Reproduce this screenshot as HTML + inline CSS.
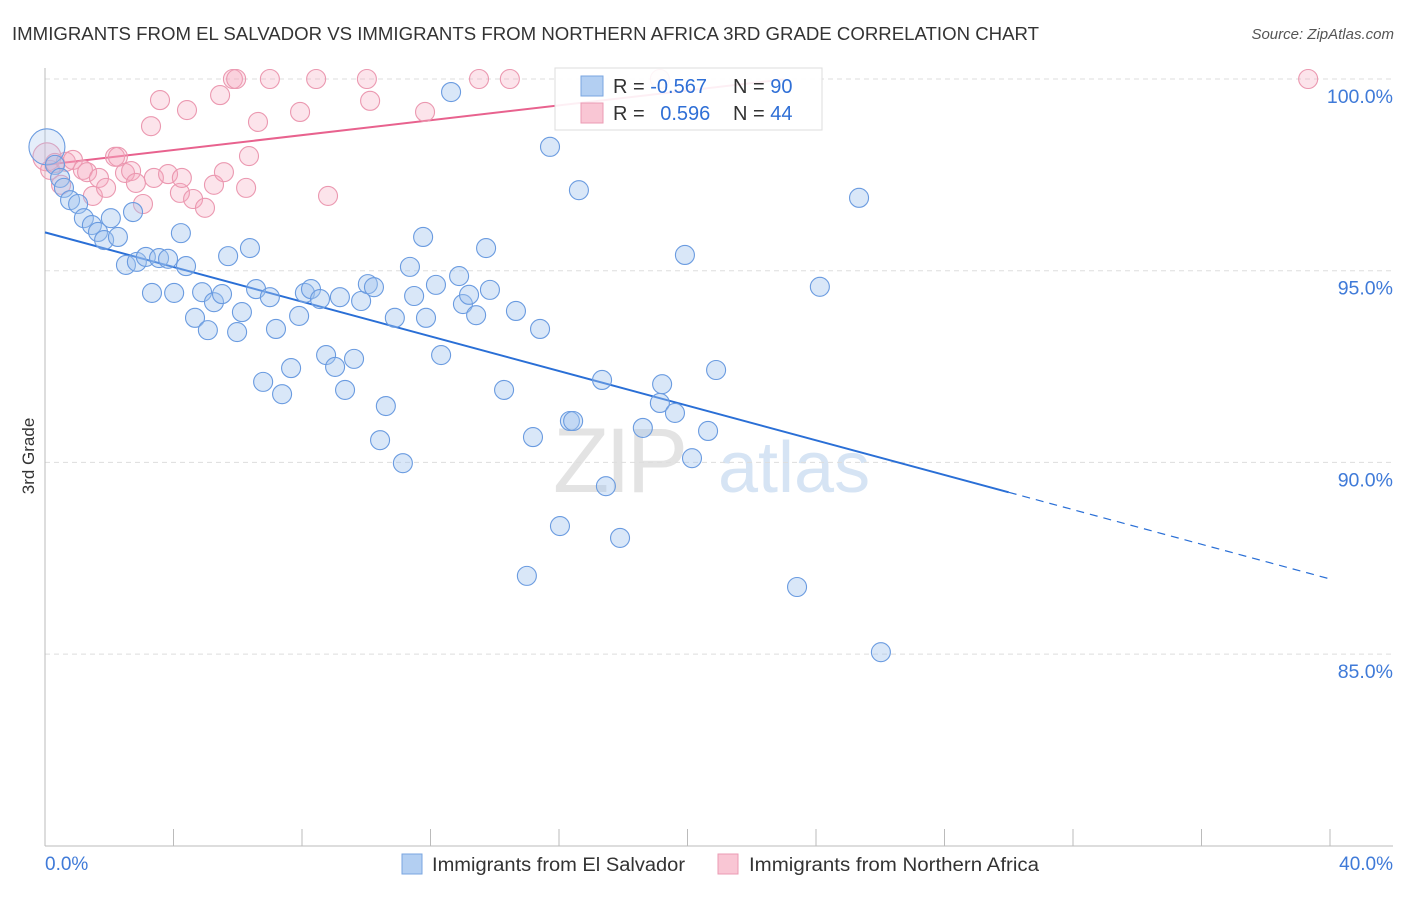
<!DOCTYPE html>
<html><head><meta charset="utf-8"><style>
body{margin:0;background:#fff;font-family:"Liberation Sans",sans-serif;}
svg text{font-family:"Liberation Sans",sans-serif;}
</style></head><body>
<svg id="chart" width="1406" height="892" viewBox="0 0 1406 892">
<text x="12" y="40" font-size="18" fill="#333" textLength="1027" lengthAdjust="spacingAndGlyphs">IMMIGRANTS FROM EL SALVADOR VS IMMIGRANTS FROM NORTHERN AFRICA 3RD GRADE CORRELATION CHART</text>
<text x="1394" y="39" font-size="15" fill="#555" font-style="italic" text-anchor="end">Source: ZipAtlas.com</text>
<text transform="translate(34,456) rotate(-90)" font-size="17" fill="#333" text-anchor="middle">3rd Grade</text>
<g><text x="553" y="492" font-size="92" fill="#e3e3e3" font-family="Liberation Serif,serif" letter-spacing="-4">ZIP</text><text x="718" y="492" font-size="72" fill="#d6e4f4">atlas</text></g>
<g id="grid"></g><g id="axes"></g><g id="trend"></g><g id="points"></g>
<g>
<rect x="555" y="68" width="267" height="62" fill="#fff" fill-opacity="0.9" stroke="#ddd"/>
<rect x="581" y="76" width="22" height="20" fill="#b3cff2" stroke="#7aa6e0"/>
<rect x="581" y="103" width="22" height="20" fill="#f9c6d4" stroke="#eb9bb3"/>
<text x="613" y="93" font-size="20" fill="#333">R = <tspan fill="#2f6fd6">-0.567</tspan></text>
<text x="733" y="93" font-size="20" fill="#333">N = <tspan fill="#2f6fd6">90</tspan></text>
<text x="613" y="120" font-size="20" fill="#333">R = <tspan fill="#2f6fd6" dx="10">0.596</tspan></text>
<text x="733" y="120" font-size="20" fill="#333">N = <tspan fill="#2f6fd6">44</tspan></text>
</g>
<g>
<rect x="402" y="854" width="20" height="20" fill="#b3cff2" stroke="#7aa6e0"/>
<text x="432" y="871" font-size="19" fill="#333" textLength="253" lengthAdjust="spacingAndGlyphs">Immigrants from El Salvador</text>
<rect x="718" y="854" width="20" height="20" fill="#f9c6d4" stroke="#eb9bb3"/>
<text x="749" y="871" font-size="19" fill="#333" textLength="290" lengthAdjust="spacingAndGlyphs">Immigrants from Northern Africa</text>
</g>
</svg>
<script>
const yTicks=[100,95,90,85];
const yTickLabels=["100.0%","95.0%","90.0%","85.0%"];
const xTicks=[0,4,8,12,16,20,24,28,32,36,40];
const xEndLabels=["0.0%","40.0%"];
const blueX=[0.06,0.31,0.47,0.59,0.78,1.03,1.21,1.46,1.65,1.84,2.05,2.27,2.52,2.74,2.86,3.14,3.33,3.55,3.83,4.02,4.23,4.39,4.67,4.89,5.07,5.26,5.51,5.70,5.98,6.13,6.38,6.57,6.79,7.00,7.19,7.38,7.66,7.91,8.09,8.28,8.56,8.75,9.03,9.18,9.34,9.62,9.84,10.05,10.24,10.43,10.61,10.89,11.14,11.36,11.49,11.77,11.86,12.17,12.33,12.64,12.89,13.01,13.20,13.42,13.73,13.85,14.29,14.66,15.00,15.19,15.41,15.72,16.03,16.34,16.44,16.62,17.34,17.46,17.90,18.61,19.14,19.21,19.61,19.92,20.14,20.64,20.89,23.41,24.12,25.34,26.02];
const blueY=[98.23,97.76,97.42,97.16,96.84,96.74,96.37,96.19,96.01,95.80,96.37,95.88,95.15,96.53,95.23,95.36,94.42,95.33,95.31,94.42,95.98,95.12,93.77,94.44,93.45,94.18,94.39,95.38,93.40,93.92,95.59,94.52,92.10,94.31,93.48,91.78,92.46,93.82,94.42,94.52,94.26,92.80,92.49,94.31,91.89,92.70,94.21,94.65,94.57,90.58,91.47,93.77,89.98,95.10,94.34,95.88,93.77,94.63,92.80,99.66,94.86,94.13,94.37,93.84,95.59,94.50,91.89,93.95,87.04,90.66,93.48,98.23,88.34,91.08,91.08,97.10,92.15,89.38,88.03,90.90,91.55,92.04,91.29,95.41,90.11,90.82,92.41,86.75,94.58,96.90,85.05];
const pinkX=[0.06,0.16,0.31,0.50,0.65,0.87,1.18,1.31,1.49,1.68,1.90,2.18,2.27,2.49,2.68,2.83,3.05,3.30,3.39,3.58,3.83,4.20,4.26,4.42,4.61,4.98,5.26,5.45,5.57,5.85,5.95,6.26,6.35,6.63,7.00,7.94,8.44,8.81,10.02,10.12,11.83,13.51,14.47,19.14,39.32];
const pinkY=[97.97,97.63,97.81,97.24,97.84,97.89,97.63,97.57,96.95,97.42,97.16,97.97,97.97,97.55,97.60,97.29,96.74,98.77,97.42,99.45,97.52,97.03,97.42,99.19,96.87,96.64,97.24,99.58,97.57,100,100,97.16,97.99,98.88,100,99.14,100,96.95,100,99.43,99.14,100,100,100,100];
const blueTrend=[96.0,-0.226];
const pinkTrend=[97.76,0.097];
const NS="http://www.w3.org/2000/svg";
const X=v=>45+v/40*1285;
const Y=v=>79+(100-v)/5*191.7;
function mk(tag,attrs,parent){const e=document.createElementNS(NS,tag);for(const k in attrs)e.setAttribute(k,attrs[k]);document.getElementById(parent).appendChild(e);return e;}
yTicks.forEach((t,i)=>{
 const l=mk('line',{x1:45,x2:1393,y1:Y(t),y2:Y(t),stroke:'#ddd','stroke-dasharray':'5,4'},'grid');
 
 
 const tx=mk('text',{x:1393,y:Y(t)+24,'font-size':19.5,fill:'#3f7ad8','text-anchor':'end'},'axes');
 tx.textContent=yTickLabels[i];
 
 
});
const ya=mk('line',{x1:45,x2:45,y1:68,y2:846,stroke:'#bbb'},'axes');


const xa=mk('line',{x1:45,x2:1393,y1:846,y2:846,stroke:'#bbb'},'axes');


xTicks.forEach(t=>{
 const l=mk('line',{x1:X(t),x2:X(t),y1:829,y2:846,stroke:'#bbb'},'axes');
 
 
});
const xl0=mk('text',{x:45,y:870,'font-size':19,fill:'#3f7ad8'},'axes');
xl0.textContent=xEndLabels[0];


const xl1=mk('text',{x:1393,y:870,'font-size':19,fill:'#3f7ad8','text-anchor':'end'},'axes');
xl1.textContent=xEndLabels[1];


pinkX.forEach((x,i)=>{
 const c=mk('circle',{cx:X(x),cy:Y(pinkY[i]),r:i===0?14:9.5,fill:'rgba(245,165,188,0.3)',stroke:'#eb98b0','stroke-width':1.1},'points');
 
 
});
blueX.forEach((x,i)=>{
 const c=mk('circle',{cx:X(x),cy:Y(blueY[i]),r:i===0?18:9.5,fill:i===0?'rgba(170,200,240,0.3)':'rgba(160,196,238,0.4)',stroke:'#6a9be0','stroke-width':1.1},'points');
 
 
});
const bt=v=>blueTrend[0]+blueTrend[1]*v, pt=v=>pinkTrend[0]+pinkTrend[1]*v;
const b1=mk('line',{x1:X(0),y1:Y(bt(0)),x2:X(30),y2:Y(bt(30)),stroke:'#2a6fd6','stroke-width':2},'trend');


const b2=mk('line',{x1:X(30),y1:Y(bt(30)),x2:X(40),y2:Y(bt(40)),stroke:'#2a6fd6','stroke-width':1.2,'stroke-dasharray':'8,6'},'trend');


const p1=mk('line',{x1:X(0),y1:Y(pt(0)),x2:X(23),y2:Y(pt(23)),stroke:'#e8628e','stroke-width':2},'trend');


</script>
</body></html>
